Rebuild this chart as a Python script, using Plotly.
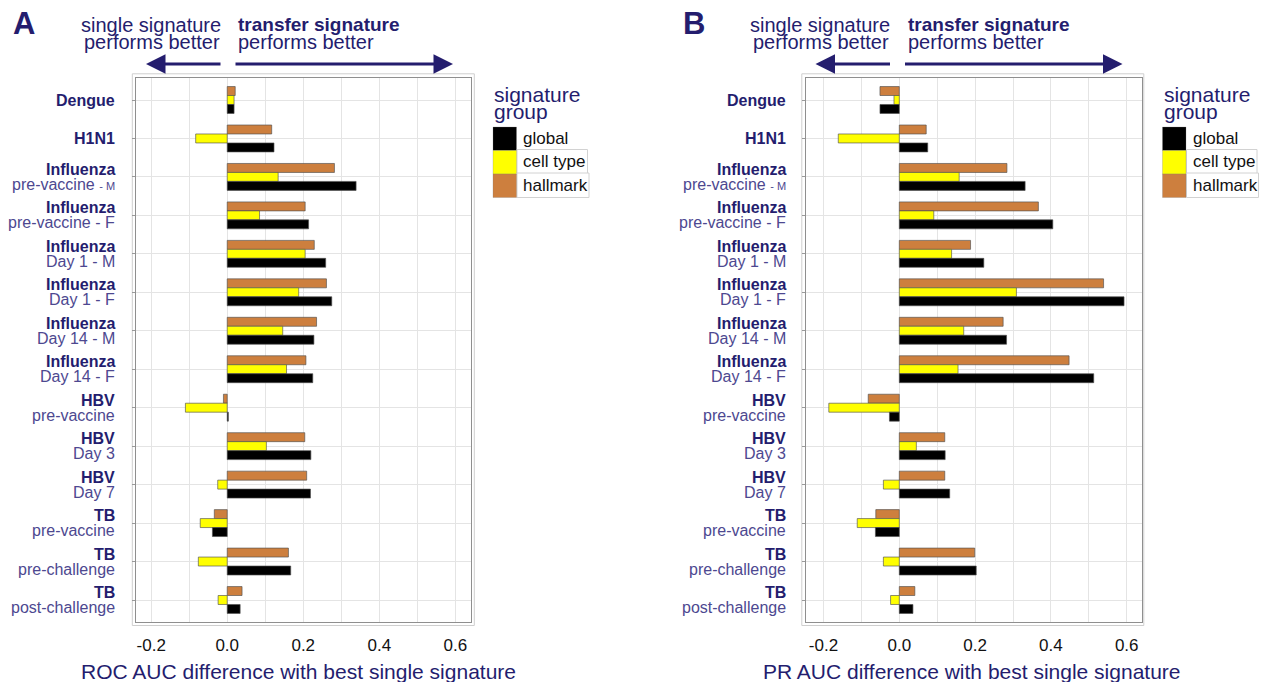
import plotly.graph_objects as go

W, H = 1265, 682

# ---------------- data ----------------
categories = ["Dengue", "H1N1", "Influenza pre-vaccine M", "Influenza pre-vaccine F",
              "Influenza Day 1 M", "Influenza Day 1 F", "Influenza Day 14 M", "Influenza Day 14 F",
              "HBV pre-vaccine", "HBV Day 3", "HBV Day 7",
              "TB pre-vaccine", "TB pre-challenge", "TB post-challenge"]
label_line1 = ["Dengue", "H1N1", "Influenza", "Influenza", "Influenza", "Influenza", "Influenza",
               "Influenza", "HBV", "HBV", "HBV", "TB", "TB", "TB"]
label_line2 = ["", "", "pre-vaccine <span style='font-size:11px'>- M</span>", "pre-vaccine - F",
               "Day 1 - M", "Day 1 - F", "Day 14 - M", "Day 14 - F",
               "pre-vaccine", "Day 3", "Day 7", "pre-vaccine", "pre-challenge", "post-challenge"]

series_names = ["hallmark", "cell type", "global"]
series_colors = ["#CD7F3E", "#FFFF00", "#000000"]

roc_hallmark = [0.021, 0.117, 0.282, 0.205, 0.229, 0.261, 0.235, 0.207, -0.010, 0.204, 0.209, -0.034, 0.161, 0.039]
roc_celltype = [0.018, -0.083, 0.134, 0.085, 0.205, 0.188, 0.146, 0.156, -0.110, 0.103, -0.025, -0.071, -0.076, -0.024]
roc_global = [0.018, 0.123, 0.339, 0.214, 0.259, 0.275, 0.228, 0.225, 0.003, 0.220, 0.219, -0.039, 0.167, 0.034]

pr_hallmark = [-0.051, 0.071, 0.284, 0.367, 0.188, 0.539, 0.274, 0.448, -0.082, 0.120, 0.120, -0.062, 0.199, 0.041]
pr_celltype = [-0.014, -0.161, 0.158, 0.091, 0.138, 0.309, 0.170, 0.155, -0.186, 0.045, -0.042, -0.111, -0.042, -0.023]
pr_global = [-0.051, 0.075, 0.332, 0.405, 0.223, 0.593, 0.283, 0.513, -0.026, 0.121, 0.133, -0.063, 0.203, 0.036]

x_tick_vals = [-0.2, 0.0, 0.2, 0.4, 0.6]
x_tick_text = ["-0.2", "0.0", "0.2", "0.4", "0.6"]

panel_letters = ["A", "B"]
x_titles = ["ROC AUC difference with best single signature", "PR AUC difference with best single signature"]

# ---------------- styling ----------------
NAVY = "#241d6e"
NAVY2 = "#4d4890"
FONT = "Liberation Sans, Arial, Helvetica, sans-serif"


def px(x):
    return x / W


def py(y):
    return 1 - y / H


fig = go.Figure()

panels = [
    dict(xa="x", ya="y", vals=[roc_hallmark, roc_celltype, roc_global]),
    dict(xa="x2", ya="y2", vals=[pr_hallmark, pr_celltype, pr_global]),
]
for p in panels:
    for name, col, v in zip(series_names, series_colors, p["vals"]):
        fig.add_trace(go.Bar(
            x=v, y=categories, orientation="h", name=name,
            marker=dict(color=col, line=dict(color="rgba(80,80,80,0.65)", width=1)),
            xaxis=p["xa"], yaxis=p["ya"], showlegend=False,
        ))

ydom = [1 - 622 / H, 1 - 77.5 / H]
yrange = [13.572, -0.585]
xaxis_common = dict(
    tickvals=x_tick_vals, ticktext=x_tick_text, ticks="",
    showgrid=True, gridcolor="#e4e4e4", gridwidth=1,
    minor=dict(dtick=0.1, tick0=0, showgrid=True, gridcolor="#e4e4e4", gridwidth=1),
    zeroline=False, showline=True, mirror=True, linecolor="#8f8f8f", linewidth=1,
    tickfont=dict(family=FONT, size=17, color="#111111"), ticklabelstandoff=8,
)
yaxis_common = dict(
    range=yrange, domain=ydom, type="category",
    showgrid=True, gridcolor="#e4e4e4", gridwidth=1,
    ticks="outside", ticklen=3, tickcolor="#9a9a9a", showticklabels=False,
    zeroline=False, showline=True, mirror=True, linecolor="#8f8f8f", linewidth=1,
)

fig.update_layout(
    width=W, height=H, margin=dict(l=0, r=0, t=0, b=0),
    paper_bgcolor="white", plot_bgcolor="white",
    barmode="group", bargap=0.3, bargroupgap=0,
    xaxis=dict(domain=[136 / W, 470.7 / W], range=[-0.240, 0.6405], anchor="y", **xaxis_common),
    yaxis=dict(anchor="x", **yaxis_common),
    xaxis2=dict(domain=[805.5 / W, 1141.7 / W], range=[-0.2475, 0.6396], anchor="y2", **xaxis_common),
    yaxis2=dict(anchor="x2", **yaxis_common),
    font=dict(family=FONT),
    hovermode=False,
)

shapes = []
annotations = []
offsets = [0, 669.5]
yrefs = ["y", "y2"]
label_right = [117.0, 787.5]

for k in range(2):
    o = offsets[k]
    # outer light border
    shapes.append(dict(type="rect", xref="paper", yref="paper",
                       x0=px(132.3 + o), x1=px(474.3 + o), y0=py(625.5), y1=py(73.8),
                       line=dict(color="#cfcfcf", width=1), fillcolor="rgba(0,0,0,0)", layer="below"))
    # y category labels (two lines)
    for cat, l1, l2 in zip(categories, label_line1, label_line2):
        if l2:
            annotations.append(dict(text=l1, x=px(label_right[k]), xref="paper", y=cat, yref=yrefs[k],
                                    xanchor="right", yanchor="middle", yshift=7.5, showarrow=False,
                                    font=dict(family=FONT, size=16, color=NAVY, weight="bold")))
            annotations.append(dict(text=l2, x=px(label_right[k]), xref="paper", y=cat, yref=yrefs[k],
                                    xanchor="right", yanchor="middle", yshift=-7.5, showarrow=False,
                                    font=dict(family=FONT, size=16, color=NAVY2)))
        else:
            annotations.append(dict(text=l1, x=px(label_right[k]), xref="paper", y=cat, yref=yrefs[k],
                                    xanchor="right", yanchor="middle", showarrow=False,
                                    font=dict(family=FONT, size=16, color=NAVY, weight="bold")))
    # panel letter
    annotations.append(dict(text=panel_letters[k], x=px(11 + o), y=py(24), xref="paper", yref="paper",
                            xanchor="left", yanchor="middle", showarrow=False,
                            font=dict(family=FONT, size=31, color=NAVY, weight="bold")))
    # header texts
    annotations.append(dict(text="single signature", x=px(150.5 + o), y=py(25), xref="paper", yref="paper",
                            xanchor="center", yanchor="middle", showarrow=False,
                            font=dict(family=FONT, size=20, color=NAVY)))
    annotations.append(dict(text="performs better", x=px(151.5 + o), y=py(42), xref="paper", yref="paper",
                            xanchor="center", yanchor="middle", showarrow=False,
                            font=dict(family=FONT, size=20, color=NAVY)))
    annotations.append(dict(text="transfer signature", x=px(236 + o), y=py(25), xref="paper", yref="paper",
                            xanchor="left", yanchor="middle", showarrow=False,
                            font=dict(family=FONT, size=19, color=NAVY, weight="bold")))
    annotations.append(dict(text="performs better", x=px(236 + o), y=py(42), xref="paper", yref="paper",
                            xanchor="left", yanchor="middle", showarrow=False,
                            font=dict(family=FONT, size=20, color=NAVY)))
    # arrows
    annotations.append(dict(text="", x=px(146 + o), y=py(64), xref="paper", yref="paper",
                            ax=222 - 146, ay=0, showarrow=True, arrowhead=2, arrowsize=1.3,
                            arrowwidth=3, arrowcolor=NAVY))
    annotations.append(dict(text="", x=px(453 + o), y=py(64), xref="paper", yref="paper",
                            ax=234 - 453, ay=0, showarrow=True, arrowhead=2, arrowsize=1.3,
                            arrowwidth=3, arrowcolor=NAVY))
    # x axis title
    annotations.append(dict(text=x_titles[k], x=px(298 + o + (4 if k else 0)), y=py(671), xref="paper", yref="paper",
                            xanchor="center", yanchor="middle", showarrow=False,
                            font=dict(family=FONT, size=21, color=NAVY)))
    # legend
    annotations.append(dict(text="signature", x=px(492 + o), y=py(95), xref="paper", yref="paper",
                            xanchor="left", yanchor="middle", showarrow=False,
                            font=dict(family=FONT, size=21, color=NAVY)))
    annotations.append(dict(text="group", x=px(492 + o), y=py(112), xref="paper", yref="paper",
                            xanchor="left", yanchor="middle", showarrow=False,
                            font=dict(family=FONT, size=21, color=NAVY)))
    leg_order = ["global", "cell type", "hallmark"]
    for i, nm in enumerate(leg_order):
        col = series_colors[series_names.index(nm)]
        y0 = 127 + i * 23.5
        if i > 0:
            shapes.append(dict(type="rect", xref="paper", yref="paper",
                               x0=px(517 + o), x1=px(587.5 + o + (1.5 if i == 2 else 0)),
                               y0=py(y0 + 23.5), y1=py(y0 - 1),
                               line=dict(color="#d2d2d2", width=1), fillcolor="white"))
        shapes.append(dict(type="rect", xref="paper", yref="paper",
                           x0=px(493 + o), x1=px(516.5 + o), y0=py(y0 + 23.5), y1=py(y0),
                           line=dict(color="rgba(120,120,120,0.5)", width=0.5), fillcolor=col))
        annotations.append(dict(text=nm, x=px(521 + o), y=py(y0 + 11), xref="paper", yref="paper",
                                xanchor="left", yanchor="middle", showarrow=False,
                                font=dict(family=FONT, size=17, color="#111111")))

fig.update_layout(shapes=shapes, annotations=annotations)
fig.write_html("out.html", config={"displayModeBar": False, "staticPlot": True},
               post_script="document.body.style.margin='0px';document.body.style.overflow='hidden';")
